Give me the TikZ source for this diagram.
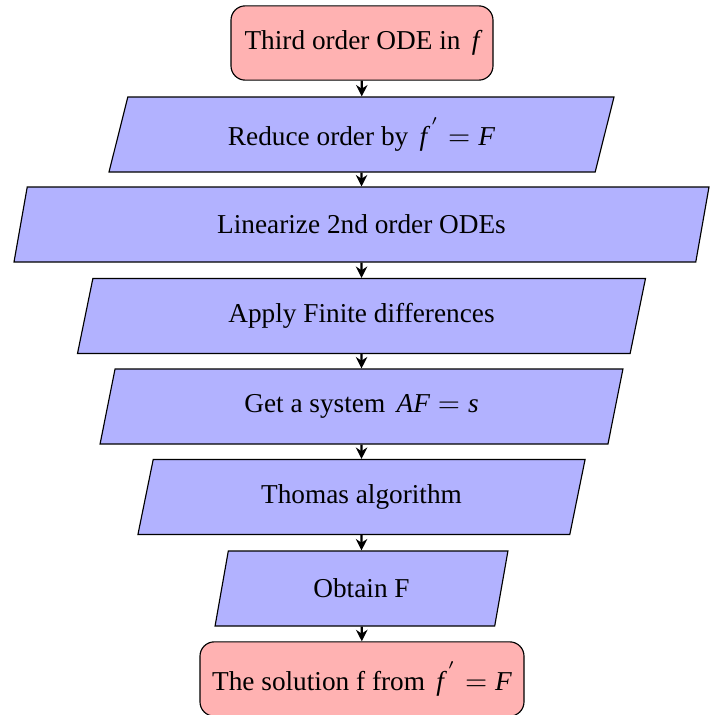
\documentclass[tikz,border=0pt]{standalone}
\usepackage{fontspec}
\setmainfont{Liberation Serif}
\usetikzlibrary{shapes.geometric,arrows.meta}
\tikzset{
  every node/.style={font=\fontsize{9.55}{11.5}\selectfont},
  startstop/.style={rectangle, rounded corners=5pt, draw=black, fill=red!30,
    minimum height=26pt, inner sep=3pt, text centered},
  iobox/.style={trapezium, trapezium left angle=70, trapezium right angle=110,
    trapezium stretches body, draw=black, fill=blue!30,
    minimum height=26.25pt, inner sep=3pt, text centered},
  arr/.style={thick, -{Stealth[length=4pt,width=4pt]}}
}
\begin{document}
\begin{tikzpicture}[x=0.35pt,y=-0.35pt]
\useasboundingbox (0,0) rectangle (715,715);
\node[startstop, minimum width=91.7pt] (n1) at (362,43) {Third order ODE in \,$\textit{f}$};
\node[iobox, minimum width=176.75pt] (n2) at (361.5,134.5) {Reduce order by \,$\textit{f}^{\,'}=\textit{F}$};
\node[iobox, minimum width=243.25pt] (n3) at (361.5,224.5) {Linearize 2nd order ODEs};
\node[iobox, minimum width=198.8pt] (n4) at (361.5,316) {Apply Finite differences};
\node[iobox, minimum width=183pt] (n5) at (361.5,406.5) {Get a system \,$\textit{AF}=\textit{s}$};
\node[iobox, minimum width=156.5pt] (n6) at (361.5,497) {Thomas algorithm};
\node[iobox, minimum width=102.5pt] (n7) at (361.5,588.5) {Obtain F};
\node[startstop, minimum width=113.4pt] (n8) at (362,679) {The solution f from \,$\textit{f}^{\,'}=\textit{F}$};
\draw[arr] (n1) -- (n2);
\draw[arr] (n2) -- (n3);
\draw[arr] (n3) -- (n4);
\draw[arr] (n4) -- (n5);
\draw[arr] (n5) -- (n6);
\draw[arr] (n6) -- (n7);
\draw[arr] (n7) -- (n8);
\end{tikzpicture}
\end{document}
